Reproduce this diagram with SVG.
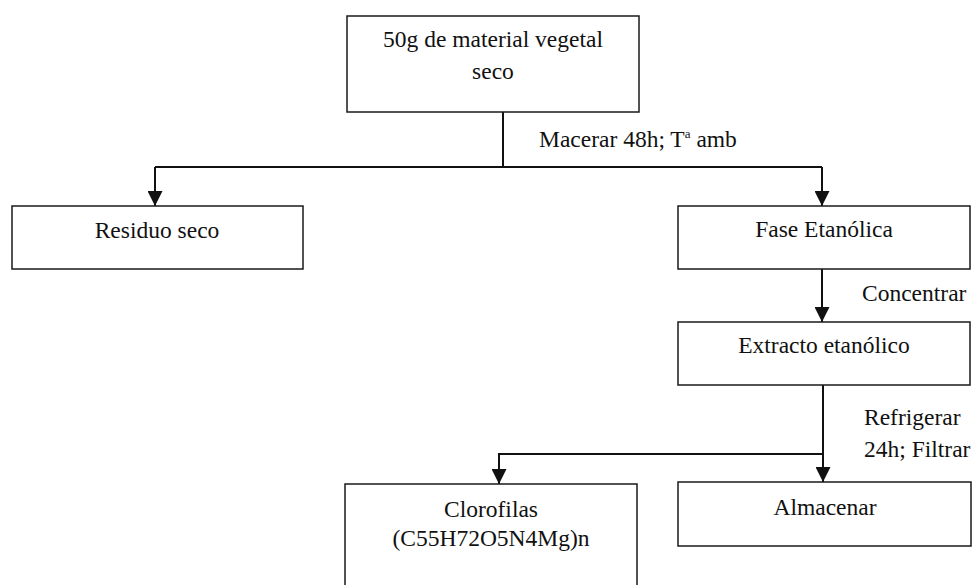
<svg xmlns="http://www.w3.org/2000/svg" width="973" height="585" viewBox="0 0 973 585">
  <style>
    .box { fill: #ffffff; stroke: #1a1a1a; stroke-width: 1.5; }
    .lbl { font-family: "Liberation Serif", "Times New Roman", serif; font-size: 23.5px; fill: #111111; }
    .mid { text-anchor: middle; }
    .wire { fill: none; stroke: #111111; stroke-width: 2; }
  </style>
  <defs>
    <marker id="arrow" viewBox="0 0 15 15" refX="15" refY="7.5" markerWidth="15" markerHeight="15" markerUnits="userSpaceOnUse" orient="auto">
      <path d="M0,0 L15,7.5 L0,15 Z" fill="#111111"/>
    </marker>
  </defs>
  <rect width="973" height="585" fill="#ffffff"/>

  <!-- connectors -->
  <g id="connectors">
    <path class="wire" d="M503,112 V167"/>
    <path class="wire" d="M155,167 H822"/>
    <path class="wire" d="M155,167 V206" marker-end="url(#arrow)"/>
    <path class="wire" d="M822,167 V206" marker-end="url(#arrow)"/>
    <path class="wire" d="M822,269 V322" marker-end="url(#arrow)"/>
    <path class="wire" d="M823,385 V482" marker-end="url(#arrow)"/>
    <path class="wire" d="M823,454 H499 V484" marker-end="url(#arrow)"/>
    <text class="lbl" x="539" y="147">Macerar 48h; T<tspan font-size="13" dy="-9">a</tspan><tspan dy="9"> amb</tspan></text>
    <text class="lbl" x="862" y="301">Concentrar</text>
    <text class="lbl" x="864" y="425">Refrigerar</text>
    <text class="lbl" x="864" y="457">24h; Filtrar</text>
  </g>

  <g id="material">
    <rect class="box" x="347" y="16" width="292" height="96"/>
    <text class="lbl mid" x="493" y="47">50g de material vegetal</text>
    <text class="lbl mid" x="493" y="79">seco</text>
  </g>

  <g id="residuo">
    <rect class="box" x="12" y="206" width="291" height="63"/>
    <text class="lbl mid" x="157" y="238">Residuo seco</text>
  </g>

  <g id="fase">
    <rect class="box" x="678" y="206" width="292" height="63"/>
    <text class="lbl mid" x="824" y="237">Fase Etanólica</text>
  </g>

  <g id="extracto">
    <rect class="box" x="678" y="322" width="292" height="63"/>
    <text class="lbl mid" x="824" y="353">Extracto etanólico</text>
  </g>

  <g id="clorofilas">
    <rect class="box" x="345" y="484" width="292" height="130"/>
    <text class="lbl mid" x="491" y="517">Clorofilas</text>
    <text class="lbl mid" x="491" y="546">(C55H72O5N4Mg)n</text>
  </g>

  <g id="almacenar">
    <rect class="box" x="678" y="482" width="293" height="64"/>
    <text class="lbl mid" x="825" y="515">Almacenar</text>
  </g>
</svg>
